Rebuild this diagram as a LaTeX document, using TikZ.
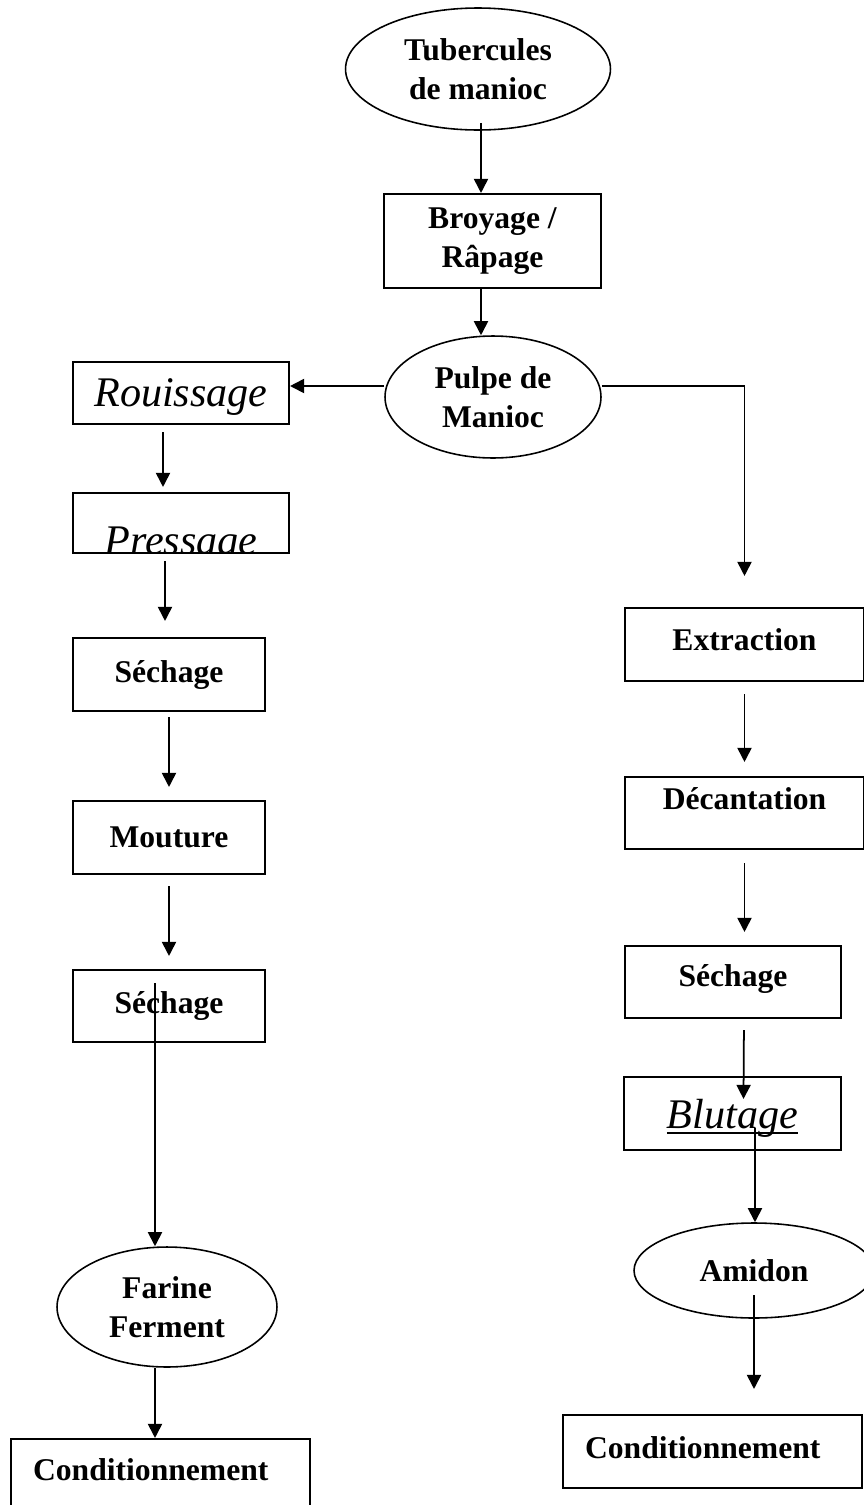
\documentclass[tikz,border=0pt]{standalone}
\usepackage{fontspec}
\setmainfont{Liberation Serif}
\usetikzlibrary{shapes.geometric,arrows.meta}

% underline placed like a word processor does it
\newcommand\wordline[1]{\setbox0\hbox{#1}\rlap{\rule[-2.9pt]{\wd0}{0.8pt}}\box0}

\tikzset{
  stepbox/.style={draw, line width=1.2pt, inner sep=0pt, align=center,
    font=\fontsize{18}{22.5}\selectfont\bfseries},
  stepoval/.style={ellipse, draw, line width=0.9pt, inner sep=0pt, align=center,
    font=\fontsize{18}{22.5}\selectfont\bfseries},
  itword/.style={font=\fontsize{24}{28}\selectfont\itshape},
  flow/.style={line width=1pt, -{Triangle[length=8pt,width=8pt]}}
}

\begin{document}
\begin{tikzpicture}[x=0.02cm,y=-0.02cm]
		\useasboundingbox (0,0) rectangle (864,1505);
		
		% tronc commun
		\node[stepoval, minimum width=5.30cm, minimum height=2.44cm] (tuber) at (478,69) {Tubercules\\de manioc};
		\node[stepbox, minimum width=4.34cm, minimum height=1.88cm] (broy) at (492.5,241) {Broyage /\\Râpage};
		\node[stepoval, minimum width=4.32cm, minimum height=2.44cm] (pulpe) at (493,397) {Pulpe de\\Manioc};
		
		% branche farine
		\node[stepbox, itword, minimum width=4.32cm, minimum height=1.24cm, text depth=0pt] (rouis) at (181,393) {Rouissage};
		\node[stepbox, minimum width=4.32cm, minimum height=1.20cm,
		  path picture={\node[itword, draw=none, anchor=base] (presstext) at ([yshift=-0.02cm]path picture bounding box.south) {Pressage};}] (press) at (181,523) {};
		\node[stepbox, minimum width=3.84cm, minimum height=1.46cm] (sech1) at (169,674.5) {Séchage};
		\node[stepbox, minimum width=3.84cm, minimum height=1.46cm] (mout) at (169,837.5) {Mouture};
		\node[stepbox, minimum width=3.84cm, minimum height=1.44cm] (sech2) at (169,1006) {Séchage};
		\node[stepoval, minimum width=4.40cm, minimum height=2.40cm] (farine) at (167,1307) {Farine\\Ferment};
		\node[stepbox, minimum width=5.98cm, minimum height=1.52cm, text width=5.10cm, align=left, inner xsep=0.44cm, text depth=9pt] (condl) at (160.5,1477) {Conditionnement};
		
		% branche amidon
		\node[stepbox, minimum width=4.78cm, minimum height=1.46cm, text depth=6pt] (extr) at (744.5,644.5) {Extraction};
		\node[stepbox, minimum width=4.78cm, minimum height=1.44cm, text depth=16pt] (decant) at (744.5,813) {Décantation};
		\node[stepbox, minimum width=4.32cm, minimum height=1.44cm, text depth=7pt] (sech3) at (733,982) {Séchage};
		\node[stepbox, itword, minimum width=4.34cm, minimum height=1.46cm, text height=17pt, text depth=0pt] (blut) at (732.5,1113.5) {\wordline{Blutage}};
		\node[stepoval, minimum width=4.80cm, minimum height=1.90cm] (amid) at (754,1270.5) {Amidon};
		\node[stepbox, minimum width=5.98cm, minimum height=1.46cm, text width=5.10cm, align=left, inner xsep=0.44cm, text depth=5pt] (condr) at (712.5,1451.5) {Conditionnement};
		
		% fleches
		\draw[flow] ([xshift=0.06cm,yshift=0.16cm]tuber.south) coordinate (t1) -- (t1 |- broy.north);
		\draw[flow] ([xshift=-0.23cm]broy.south) coordinate (b1) -- (b1 |- pulpe.north);
		\draw[flow] ([yshift=0.22cm]pulpe.west) coordinate (p1) -- (p1 -| rouis.east);
		\draw[flow] ([yshift=0.22cm]pulpe.east) -| ([yshift=0.62cm]extr.north);
		
		\draw[flow, shorten <=0.14cm, shorten >=0.1cm] ([xshift=-0.36cm]rouis.south) coordinate (r1) -- (r1 |- press.north);
		\draw[flow, shorten <=0.14cm, shorten >=0.32cm] ([xshift=-0.32cm]press.south) coordinate (r2) -- (r2 |- sech1.north);
		\draw[flow, shorten <=0.1cm, shorten >=0.26cm] (sech1.south) -- (mout.north);
		\draw[flow, shorten <=0.22cm, shorten >=0.26cm] (mout.south) -- (sech2.north);
		\draw[flow] ([xshift=-0.28cm,yshift=0.46cm]sech2.center) coordinate (s1) -- (s1 |- farine.north);
		\draw[flow] ([xshift=-0.24cm]farine.south) coordinate (f1) -- (f1 |- condl.north);
		
		\draw[flow, shorten <=0.24cm, shorten >=0.28cm] (extr.south) -- (decant.north);
		\draw[flow, shorten <=0.26cm, shorten >=0.26cm] (decant.south) -- (decant.south |- sech3.north);
		\coordinate (blutin) at ([xshift=0.22cm,yshift=-0.46cm]blut.north);
		\draw[flow, shorten <=0.22cm] ([xshift=0.22cm]sech3.south) -- (blutin);
		\draw[flow] ([xshift=0.45cm,yshift=-0.29cm]blut.center) coordinate (u1) -- (u1 |- amid.north);
		\draw[flow, shorten >=0.5cm] ([yshift=-0.49cm]amid.center) coordinate (a1) -- (a1 |- condr.north);
\end{tikzpicture}
\end{document}
